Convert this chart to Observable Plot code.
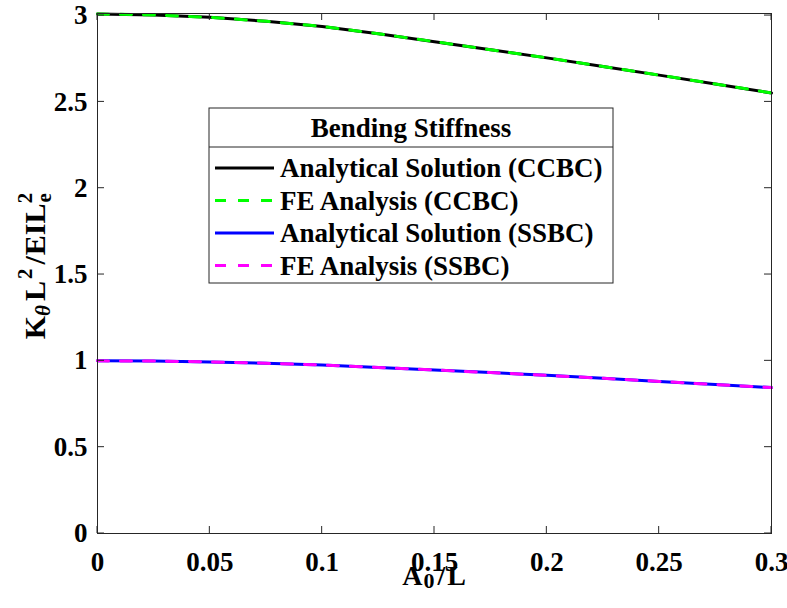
<!DOCTYPE html>
<html>
<head>
<meta charset="utf-8">
<script src="https://cdn.jsdelivr.net/npm/d3@7"></script>
<script src="https://cdn.jsdelivr.net/npm/@observablehq/plot@0.6"></script>
<style>
  html, body { margin: 0; padding: 0; background: #fff; }
  #chart svg { display: block; }
</style>
</head>
<body>
<div id="chart"></div>
<script>
// ---- data ----
const aOverL = [0, 0.025, 0.05, 0.075, 0.1, 0.125, 0.15, 0.175, 0.2, 0.225, 0.25, 0.275, 0.3];
const ccbcAnalytical = [3.009, 3.004, 2.990, 2.967, 2.937, 2.895, 2.849, 2.802, 2.755, 2.705, 2.655, 2.604, 2.552];
const ccbcFE         = [3.009, 3.004, 2.990, 2.967, 2.937, 2.895, 2.849, 2.802, 2.755, 2.705, 2.655, 2.604, 2.552];
const ssbcAnalytical = [1.000, 0.999, 0.994, 0.986, 0.976, 0.962, 0.947, 0.932, 0.916, 0.899, 0.881, 0.863, 0.845];
const ssbcFE         = [1.000, 0.999, 0.994, 0.986, 0.976, 0.962, 0.947, 0.932, 0.916, 0.899, 0.881, 0.863, 0.845];
const xTicks = [0, 0.05, 0.1, 0.15, 0.2, 0.25, 0.3];
const yTicks = [0, 0.5, 1, 1.5, 2, 2.5, 3];
const legendTitle = "Bending Stiffness";
const seriesNames = ["Analytical Solution (CCBC)", "FE Analysis (CCBC)", "Analytical Solution (SSBC)", "FE Analysis (SSBC)"];
const seriesColors = ["#000000", "#00ff00", "#0000ff", "#ff00ff"];
const seriesDashed = [false, true, false, true];
const seriesValues = [ccbcAnalytical, ccbcFE, ssbcAnalytical, ssbcFE];

const series = seriesValues.map((vals, i) => aOverL.map((a, j) => ({a, v: vals[j]})));

const FONT = "'Liberation Serif', 'Times New Roman', serif";
const dash = "11,12";

const chart = Plot.plot({
  width: 787,
  height: 608,
  marginLeft: 97,
  marginRight: 16,
  marginTop: 13,
  marginBottom: 75,
  style: {fontFamily: FONT, fontWeight: "bold", fontSize: "27px", color: "#000", background: "#fff"},
  x: {domain: [0, 0.3]},
  y: {domain: [0, 3.012]},
  marks: [
    Plot.axisX({ticks: xTicks, tickSize: 0, tickPadding: 18, label: null, tickFormat: d => String(d)}),
    Plot.axisY({ticks: yTicks, tickSize: 0, tickPadding: 10, label: null, tickFormat: d => String(d)}),
    ...series.map((s, i) => Plot.line(s, {
      x: "a", y: "v",
      stroke: seriesColors[i],
      strokeWidth: 3,
      strokeDasharray: seriesDashed[i] ? dash : null
    })),
    Plot.frame({stroke: "#262626", strokeWidth: 1})
  ]
});

document.getElementById("chart").appendChild(chart);

const svg = d3.select(chart);
const xs = chart.scale("x"), ys = chart.scale("y");
const [x0, x1] = xs.range, [y0, y1] = ys.range; // y0 bottom, y1 top
const tl = 7;
const tg = svg.append("g").attr("stroke", "#262626").attr("stroke-width", 1);
for (const t of xTicks) {
  const px = xs.apply(t);
  tg.append("line").attr("x1", px).attr("x2", px).attr("y1", y0).attr("y2", y0 - tl);
  tg.append("line").attr("x1", px).attr("x2", px).attr("y1", y1).attr("y2", y1 + tl);
}
for (const t of yTicks) {
  const py = ys.apply(t);
  tg.append("line").attr("y1", py).attr("y2", py).attr("x1", x0).attr("x2", x0 + tl);
  tg.append("line").attr("y1", py).attr("y2", py).attr("x1", x1).attr("x2", x1 - tl);
}

// x label: A0/L
const xl = svg.append("text")
  .attr("x", (x0 + x1) / 2).attr("y", 585)
  .attr("text-anchor", "middle")
  .attr("font-family", FONT).attr("font-weight", "bold").attr("font-size", 28).attr("fill", "#000");
xl.append("tspan").text("A");
xl.append("tspan").attr("font-size", 22).attr("dy", 3).attr("dx", 1).text("0");
xl.append("tspan").attr("dy", -3).attr("dx", 3).text("/");
xl.append("tspan").attr("dx", 2).text("L");

// y label: K_θ L^2 / E I L_e^2
const yl = svg.append("text")
  .attr("transform", `translate(45, 266) rotate(-90)`)
  .attr("text-anchor", "middle")
  .attr("font-family", FONT).attr("font-weight", "bold").attr("font-size", 30).attr("fill", "#000");
yl.append("tspan").text("K");
yl.append("tspan").attr("font-size", 21).attr("font-style", "italic").attr("dy", 5).text("θ");
yl.append("tspan").attr("dy", -5).attr("dx", 4).text("L");
yl.append("tspan").attr("font-size", 21).attr("dy", -13).attr("dx", 2).text("2");
yl.append("tspan").attr("dy", 13).attr("dx", 4).text("/");
yl.append("tspan").attr("dx", 1).text("EIL");
yl.append("tspan").attr("font-size", 21).attr("dy", 6).attr("dx", 1).text("e");
yl.append("tspan").attr("font-size", 21).attr("dx", -10).attr("dy", -19).text("2");

// legend
const L = {x: 209, y: 108, w: 404, h: 175, sep: 147};
const lg = svg.append("g").attr("font-family", FONT).attr("font-weight", "bold").attr("font-size", 27);
lg.append("rect").attr("x", L.x).attr("y", L.y).attr("width", L.w).attr("height", L.h)
  .attr("fill", "#fff").attr("stroke", "#262626").attr("stroke-width", 1);
lg.append("line").attr("x1", L.x).attr("x2", L.x + L.w).attr("y1", L.sep).attr("y2", L.sep)
  .attr("stroke", "#262626").attr("stroke-width", 1);
lg.append("text").attr("x", L.x + L.w / 2).attr("y", 128).attr("dy", "0.35em")
  .attr("text-anchor", "middle").attr("fill", "#000").text(legendTitle);
const rowY = [168, 200.5, 233, 265.5];
seriesNames.forEach((name, i) => {
  lg.append("line").attr("x1", 215).attr("x2", 274).attr("y1", rowY[i]).attr("y2", rowY[i])
    .attr("stroke", seriesColors[i]).attr("stroke-width", 3)
    .attr("stroke-dasharray", seriesDashed[i] ? "11,12" : null);
  lg.append("text").attr("x", 280).attr("y", rowY[i]).attr("dy", "0.35em")
    .attr("text-anchor", "start").attr("fill", "#000").text(name);
});
</script>
</body>
</html>
